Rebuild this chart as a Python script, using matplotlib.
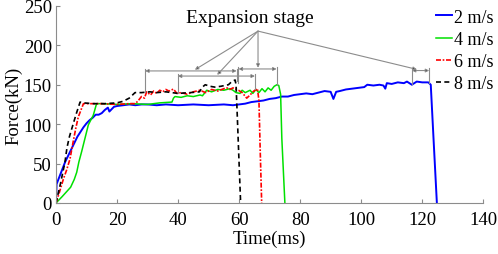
import matplotlib
matplotlib.use("Agg")
import matplotlib.pyplot as plt

plt.rcParams['font.family'] = ['Liberation Serif', 'DejaVu Serif']

# ---- data ----
t_2 = [0, 0.2, 1, 2, 3, 4, 5, 6, 7, 8, 9, 10, 11, 12, 13, 14, 15, 16, 17, 17.5, 18, 19, 20, 22, 24,
       26, 28, 30, 33, 36, 40, 45, 50, 55, 58, 60, 62, 64, 66, 68, 70, 72, 74, 76, 78, 80, 82, 84, 86,
       88, 90, 90.9, 91.8, 93, 95, 97, 99, 101, 102, 104, 106, 107.3, 107.9, 108.4, 110, 112, 114, 115,
       116.6, 118.2, 120, 122, 122.8, 123.7, 124.8]
f_2 = [0, 24, 32, 42, 52, 60, 68, 76, 84, 90, 96, 101, 105, 108, 112, 112, 114, 118, 121, 116, 118,
       122, 123, 124, 125, 124, 125, 125, 124, 125, 124, 125, 124, 125, 124, 125, 126, 128, 129, 130,
       132, 133, 135, 135, 137, 138, 139, 138, 140, 142, 141, 132, 141, 142, 144, 145, 146, 147, 150,
       149, 150, 149, 145, 152, 151, 153, 152, 154, 150, 154, 153, 153, 150, 82, 0]

t_4 = [0, 2, 4.8, 6, 6.8, 7.5, 8.4, 9.5, 10.6, 11.5, 12.2, 13.3, 15, 20, 25, 30, 34, 38, 38.5, 39,
       41, 43, 45, 47.2, 48, 49.4, 51, 53, 55, 57, 58, 59, 60.3, 61, 62, 63.6, 64.5, 65.5, 66.5, 67.5,
       68.5, 69.5, 70.5, 71.5, 72.4, 73, 73.6, 74, 75]
f_4 = [0, 8, 20, 30, 39, 52, 65, 82, 99, 106, 111, 126, 126, 125, 126, 125, 127, 128, 133, 135,
       134, 136, 135, 137, 136, 143, 141, 144, 143, 145, 143, 140, 139, 143, 140, 143, 139, 144, 140,
       145, 141, 146, 143, 148, 150, 149, 138, 82, 0]

t_6 = [0, 1, 2.4, 3.5, 4.6, 5.5, 6.5, 7.3, 8.2, 9, 10, 15, 20, 24, 26, 27, 28, 29, 29.7, 31, 32, 33,
       34, 35, 36, 37, 38.5, 39.6, 41, 43, 45, 47.2, 49, 51, 53, 55, 56, 57, 58, 59.8, 61, 62.5, 63.6,
       64.5, 65.2, 66, 66.5, 66.9, 67.4]
f_6 = [0, 12, 30, 42, 56, 75, 95, 109, 118, 126, 126, 126, 125, 126, 126, 130, 135, 133, 141, 137,
       142, 139, 143, 141, 144, 142, 144.5, 139, 140, 138, 141, 143, 140, 144, 142, 145, 146, 144, 146,
       143, 140, 133, 137, 141, 143, 145, 130, 69, 0]

t_8 = [0, 1.5, 2.95, 3.6, 4.4, 5, 5.7, 6.8, 7.9, 9, 12, 16, 20, 22, 24, 25.9, 28, 30.8, 33, 36, 40,
       44, 47, 48, 48.9, 50.5, 52, 54, 56.5, 57.6, 58.7, 59, 59.4, 60, 60.5]
f_8 = [0, 25, 52, 70, 84, 92, 101, 115, 128, 127, 126, 126, 127, 129, 133, 140, 140, 141, 140, 141,
       139, 140, 141, 147, 150, 148, 147, 148, 150, 154, 156, 150, 111, 50, 0]

labels = ["2 m/s", "4 m/s", "6 m/s", "8 m/s"]
x_ticks = [0, 20, 40, 60, 80, 100, 120, 140]
y_ticks = [0, 50, 100, 150, 200, 250]

# expansion-stage brackets: (start, end, bracket level, foot left, foot right)
stage_start = [29.2, 39.9, 59.8, 116.6]
stage_end = [59.2, 65.2, 72.3, 122.3]
stage_level = [167.5, 161, 170, 168]
foot_left = [141, 140, 152, 151]
foot_right = [155, 145, 150, 152]
pointer_x = [45.5, 52.8, 66.2, 118.2]

# ---- figure ----
fig = plt.figure(figsize=(4.98, 2.55), dpi=100)
ax = fig.add_axes([0.1124, 0.2, 0.858, 0.773])

ax.plot(t_2, f_2, color='#0000ff', lw=1.4, label=labels[0])
ax.plot(t_4, f_4, color='#00e000', lw=1.1, label=labels[1])
ax.plot(t_6, f_6, color='#ff0000', lw=1.2, ls=(0, (3, 1, 1, 1)), label=labels[2])
ax.plot(t_8, f_8, color='black', lw=1.2, ls=(0, (3, 2)), label=labels[3])

gray = '#8c8c8c'
for s, e, lv, fl, fr in zip(stage_start, stage_end, stage_level, foot_left, foot_right):
    ax.plot([s, s], [fl, lv + 3], color=gray, lw=0.8)
    ax.plot([e, e], [fr, lv + 3], color=gray, lw=0.8)
    ax.annotate('', xy=(s, lv), xytext=(e, lv),
                arrowprops=dict(arrowstyle='<|-|>', color=gray, lw=0.8,
                                mutation_scale=5, shrinkA=0, shrinkB=0,
                                ec=gray, fc='black'))

ax.text(63.6, 235, 'Expansion stage', ha='center', va='center', fontsize=14)
for px, lv in zip(pointer_x, stage_level):
    ax.annotate('', xy=(px, lv + 1.5), xytext=(66.2, 218),
                arrowprops=dict(arrowstyle='-|>', color=gray, lw=0.8,
                                mutation_scale=5, shrinkA=0, shrinkB=0,
                                ec=gray, fc='black'))

ax.set_xlim(0, 140)
ax.set_ylim(0, 250)
ax.set_xticks(x_ticks)
ax.set_yticks(y_ticks)
ax.tick_params(direction='in', labelsize=13.5, length=3, color=gray, width=0.8)
ax.tick_params(axis='x', pad=6)
ax.tick_params(axis='y', pad=3)
for sp in ['top', 'right']:
    ax.spines[sp].set_visible(False)
for sp in ['left', 'bottom']:
    ax.spines[sp].set_color(gray)
    ax.spines[sp].set_linewidth(0.8)

ax.set_xlabel('Time(ms)', fontsize=13.5, labelpad=1)
ax.set_ylabel('Force(kN)', fontsize=13.5, labelpad=1)

fig.legend(loc='upper left', bbox_to_anchor=(0.862, 0.99), frameon=False, fontsize=13,
           handlelength=0.85, handletextpad=0.12, labelspacing=0.28, borderaxespad=0)

fig.savefig('out.png', dpi=100)
